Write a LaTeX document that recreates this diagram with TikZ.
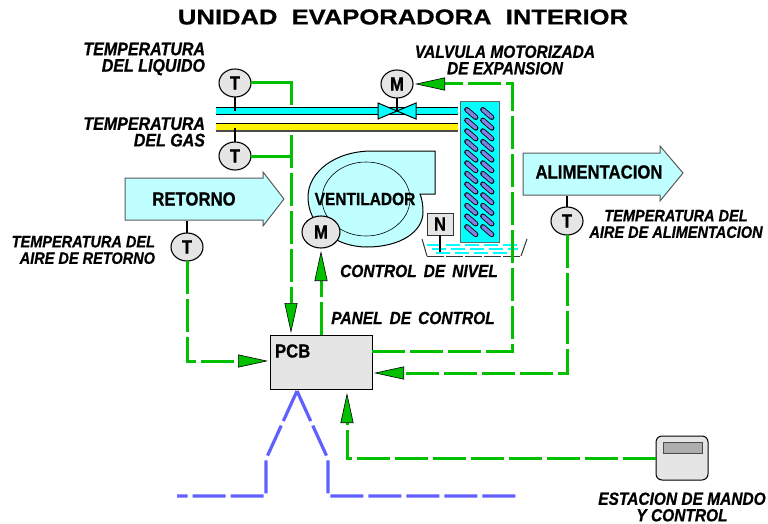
\documentclass[tikz,border=0pt]{standalone}
\usepackage{fontspec}
\setmainfont{Liberation Sans}[BoldFeatures={FakeStretch=.88,FakeBold=0.7},BoldItalicFeatures={FakeStretch=.88,FakeBold=0.7}]
\newfontfamily\titlefont{Liberation Sans}[BoldFeatures={FakeStretch=1.19,FakeBold=0.8}]
\usetikzlibrary{arrows.meta,shapes.geometric}
\definecolor{gr}{RGB}{0,192,0}
\definecolor{pale}{RGB}{191,255,255}
\definecolor{cy}{RGB}{0,255,255}
\definecolor{bl}{RGB}{96,96,255}
\definecolor{tube}{RGB}{128,128,230}
\definecolor{lg}{RGB}{229,229,229}
\newcommand{\wsp}{\hspace{7pt}}
\tikzset{
 every node/.style={inner sep=0pt,outer sep=0pt},
 instr/.style={draw=black,line width=1.1pt,fill=lg,ellipse,minimum width=32pt,minimum height=28pt,font=\bfseries\fontsize{19}{19}\selectfont},
 link/.style={draw=gr,line width=3pt,dash pattern=on 33pt off 5pt},
 plainlink/.style={draw=gr,line width=3pt},
 tipped/.style={-{Triangle[length=30pt,width=13pt,fill=gr,color=black,line width=.6pt]}},
 power/.style={draw=bl,line width=3.2pt,dash pattern=on 33pt off 5pt},
 lab/.style={font=\bfseries\itshape\fontsize{18.2}{16.5}\selectfont,align=right},
 labs/.style={font=\bfseries\itshape\fontsize{17.6}{16.5}\selectfont,align=right},
 labr/.style={font=\bfseries\itshape\fontsize{16.5}{16.5}\selectfont,align=right},
 air/.style={draw=black!65,line width=1pt,fill=pale},
 bold/.style={font=\bfseries\fontsize{19}{19}\selectfont},
 boldfan/.style={font=\bfseries\fontsize{17.6}{18}\selectfont},
 coil/.style={line cap=round,line width=5.2pt,black},
 coilin/.style={line cap=round,line width=3.5pt,tube},
}
\begin{document}
\begin{tikzpicture}[x=1pt,y=-1pt]
\useasboundingbox (0,0) rectangle (768,524);
% title
\node[font=\titlefont\bfseries\fontsize{21.5}{22}\selectfont] (title) at (403,17) {UNIDAD\ \ EVAPORADORA\ \ INTERIOR};
% air arrows
\draw[air] (125,178) -- (263,178) -- (263,172) -- (284,199) -- (263,226) -- (263,220) -- (125,220) -- cycle;
\draw[air] (523,153) -- (660,153) -- (660,146) -- (683,173) -- (660,201) -- (660,195) -- (523,195) -- cycle;
\node[bold] (ret) at (194,199) {RETORNO};
\node[bold] (ali) at (599,172) {ALIMENTACION};
% pipes
\fill[cy] (216,108) rectangle (458,114);
\draw[line width=1pt] (216,108) -- (458,108);
\draw[line width=1.2pt] (216,114.5) -- (458,114.5);
\fill[yellow] (216,124) rectangle (458,131);
\draw[line width=1pt] (216,124) -- (458,124);
\draw[line width=1.4pt,black!70] (216,131) -- (458,131);
% coil
\draw[draw=black!60,line width=1pt,fill=cy] (460,102) rectangle (499,242);
\foreach \r in {0,...,11}{
 \draw[coil] (466.8,{113.5+\r*10.65-3.9}) -- (475.8,{113.5+\r*10.65+3.9});
 \draw[coil] (482.8,{113.5+\r*10.65-3.9}) -- (491.8,{113.5+\r*10.65+3.9});
}
\foreach \r in {0,...,11}{
 \draw[coilin] (466.8,{113.5+\r*10.65-3.9}) -- (475.8,{113.5+\r*10.65+3.9});
 \draw[coilin] (482.8,{113.5+\r*10.65-3.9}) -- (491.8,{113.5+\r*10.65+3.9});
}
% fan
\draw[draw=black,line width=1pt,fill=pale] (435,151) -- (372,151) .. controls (335,151) and (308,172) .. (308,197) .. controls (308,226) and (335,247) .. (367,247) .. controls (400,247) and (423,232) .. (423,212) .. controls (423,205) and (422,199) .. (420,194) -- (435,194) -- cycle;
\draw[line width=.6pt] (366,199) ellipse (44pt and 37pt);
\node[boldfan] (fan) at (365,199) {VENTILADOR};
% tray and water
\foreach \y/\a/\b in {245/427/522,249/432/518,253/436/514}
 \draw[cy,line width=1.1pt,dash pattern=on 14pt off 5pt] (\a,\y) -- (\b,\y);
\draw[black!80,line width=1pt,dash pattern=on 17pt off 2pt] (427,256) -- (521,256);
\draw[black!80,line width=1pt] (422,239) -- (427,256) (521,256) -- (527,239);
% PCB, station
\node[draw=black,line width=1pt,fill=lg,minimum width=102pt,minimum height=54pt] (pcb) at (321,362) {};
\node[bold,anchor=west] (pcbt) at (275,351) {PCB};
\node[draw=black,line width=1pt,fill=lg,rounded corners=6pt,minimum width=52pt,minimum height=44pt] (est) at (682,458) {};
\draw[black!70,line width=1pt,fill=black!32] (663,442) rectangle (702,453);
% level sensor
\node[draw=black!80,line width=1pt,fill=lg,minimum width=26pt,minimum height=22pt,bold] (nn) at (440,224) {N};
\coordinate (ntip) at (440,252);
\draw[line width=1.2pt] (nn) -- (ntip);
% instruments
\node[instr] (t1) at (235,83) {T};
\node[instr] (t2) at (235,156) {T};
\node[instr] (mv) at (397,84) {M};
\node[instr,minimum width=38pt,minimum height=32pt] (mf) at (321,232) {M};
\node[instr] (tr) at (187,247) {T};
\node[instr] (ta) at (567,221) {T};
\coordinate (p1) at (235,111);
\coordinate (p2) at (235,128);
\coordinate (v) at (397,111);
\coordinate (retb) at (187,221);
\coordinate (alib) at (567,196);
\draw[line width=1.2pt] (t1) -- (p1);
\draw[line width=1.2pt] (t2) -- (p2);
\draw[line width=1.2pt] (tr) -- (retb);
\draw[line width=1.2pt] (ta) -- (alib);
\draw[line width=1.2pt] (mv) -- (v);
% valve
\draw[black,line width=1pt,fill=cy] (v) -- (378,103) -- (378,119) -- cycle;
\draw[black,line width=1pt,fill=cy] (v) -- (416,103) -- (416,119) -- cycle;
% green connectors
\coordinate (a1) at (291,83);
\coordinate (a2) at (291,105);
\coordinate (a3) at (291,135);
\coordinate (a4) at (291,156);
\coordinate (a5) at (291,333);
\draw[plainlink] (t1) -- (a1) -- (a2);
\draw[plainlink] (t2) -- (a4);
\draw[link,tipped] (a3) -- (a5);
\coordinate (b1) at (187,361);
\coordinate (b2) at (268,361);
\draw[link,tipped] (tr) -- (b1) -- (b2);
\coordinate (c1) at (321,251);
\draw[link,tipped] (pcb.north) -- (c1);
\coordinate (d1) at (512,351);
\coordinate (d2) at (512,84);
\coordinate (d3) at (415,84);
\coordinate (d0) at (372,351);
\draw[link,tipped] (d0) -- (d1) -- (d2) -- (d3);
\coordinate (e1) at (567,373);
\coordinate (e2) at (374,373);
\draw[link,tipped] (ta) -- (e1) -- (e2);
\coordinate (f1) at (347,458);
\coordinate (f2) at (347,393);
\draw[link,tipped] (est.west) -- (f1) -- (f2);
% power
\coordinate (g0) at (177,496);
\coordinate (g1) at (266,496);
\coordinate (g2) at (266,459);
\coordinate (g3) at (297,391);
\coordinate (g4) at (328,459);
\coordinate (g5) at (328,496);
\coordinate (g6) at (517,496);
\draw[power] (g3) -- (g2) -- (g1) -- (g0);
\draw[power] (g3) -- (g4) -- (g5) -- (g6);
% labels
\node[lab,anchor=east] (l1) at (205,59) {TEMPERATURA\\DEL\ LIQUIDO};
\node[lab,anchor=east] (l2) at (205,132) {TEMPERATURA\\DEL\ GAS};
\node[labs,align=center] (l3) at (505,60) {VALVULA MOTORIZADA\\DE EXPANSION};
\node[labr,anchor=east] (l4) at (155,250) {TEMPERATURA DEL\\AIRE DE RETORNO};
\node[labr,align=center] (l5) at (676,224) {TEMPERATURA DEL\\AIRE DE ALIMENTACION};
\node[labs] (l6) at (419,271) {CONTROL\wsp DE\wsp NIVEL};
\node[labs] (l7) at (413,318) {PANEL\wsp DE\wsp CONTROL};
\node[labs,align=center] (l8) at (682,507) {ESTACION DE MANDO\\Y CONTROL};
\end{tikzpicture}
\end{document}
